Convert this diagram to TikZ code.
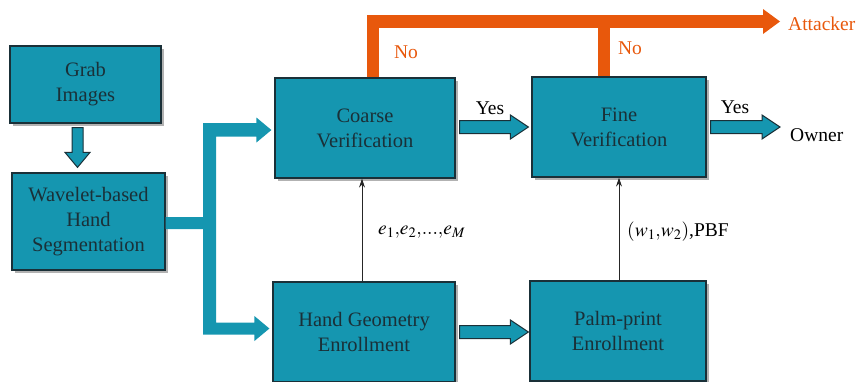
\documentclass[tikz,border=0pt]{standalone}
\usepackage{mathptmx}
\usepackage{fontspec}
\setmainfont{Liberation Serif}
\usetikzlibrary{calc,shadows,arrows.meta}
\definecolor{tealbox}{HTML}{1596B0}
\definecolor{darkline}{HTML}{1A3038}
\definecolor{orng}{HTML}{E8580C}
\newcommand\hblock[3]{%
  \draw[barrow] ($(#1)+(0,-#3)$) -- ($(#2)+(-18,-#3)$) -- ($(#2)+(-18,-12)$) -- (#2)
    -- ($(#2)+(-18,12)$) -- ($(#2)+(-18,#3)$) -- ($(#1)+(0,#3)$) -- cycle;}
\begin{document}
\begin{tikzpicture}[x=1pt,y=-1pt,
  box/.style={draw=darkline, line width=1.2pt, fill=tealbox, text=darkline,
    align=center, inner sep=0pt, font=\fontsize{20.5}{25}\selectfont,
    drop shadow={shadow xshift=2.5pt,shadow yshift=-2.5pt,opacity=0.3,fill=black}},
  lbl/.style={font=\fontsize{19.5}{24}\selectfont, inner sep=0pt},
  barrow/.style={draw=darkline, line width=1pt, fill=tealbox},
  branch/.style={fill=tealbox},
  orangeline/.style={draw=orng, line width=12.5pt},
  thin/.style={draw=black!85, line width=0.8pt, -{Stealth[length=9pt,width=6pt]}}]
\useasboundingbox (0,0) rectangle (862,381);
\clip (0,0) rectangle (862,381);
% boxes
\node[box, minimum width=151pt, minimum height=77pt] (grab) at (85.5,84.5) {Grab\\Images};
\node[box, minimum width=153pt, minimum height=97pt] (wave) at (88.5,221.5) {Wavelet-based\\Hand\\Segmentation};
\node[box, minimum width=180pt, minimum height=100pt] (coarse) at (365,128) {Coarse\\Verification};
\node[box, minimum width=174pt, minimum height=100pt] (fine) at (619,127) {Fine\\Verification};
\node[box, minimum width=182pt, minimum height=100pt] (hand) at (364,332) {Hand Geometry\\Enrollment};
\node[box, minimum width=176pt, minimum height=100pt] (palm) at (618,331) {Palm-print\\Enrollment};
% down arrow grab -> wave
\coordinate (ga) at ($(grab.south)+(-8,4)$);
\coordinate (gb0) at ($(wave.north)+(0,-5)$);
\coordinate (gb) at (ga |- gb0);
\draw[barrow] ($(ga)+(-5.5,0)$) -- ($(gb)+(-5.5,-15)$) -- ($(gb)+(-12.5,-15)$) -- (gb)
  -- ($(gb)+(12.5,-15)$) -- ($(gb)+(5.5,-15)$) -- ($(ga)+(5.5,0)$) -- cycle;
% branch from wave
\coordinate (bs) at ($(wave.east)+(0,1.5)$);
\coordinate (bt) at ($(coarse.west)+(-3,2)$);
\coordinate (bb) at ($(hand.west)+(-3,-3.5)$);
\fill[branch] (bs |- 0,217) -- (203,217) -- (203,334.5) -- ($(bb)+(-15,6)$) -- ($(bb)+(-15,12.5)$)
  -- (bb) -- ($(bb)+(-15,-12.5)$) -- ($(bb)+(-15,-6)$) -- (216,322.5) -- (216,136.5)
  -- ($(bt)+(-15,6.5)$) -- ($(bt)+(-15,12.5)$) -- (bt) -- ($(bt)+(-15,-12.5)$)
  -- ($(bt)+(-15,-7)$) -- (203,123) -- (203,229) -- (bs |- 0,229) -- cycle;
% yes arrows
\coordinate (c1e) at ($(fine.west)+(-3,0)$);
\coordinate (c1s) at ($(coarse.east)+(4,0)$);
\hblock{c1s |- c1e}{c1e}{6.5}
\node[lbl, text=black] (yes1) at (490,108) {Yes};
\coordinate (f1s) at ($(fine.east)+(4,0)$);
\node[lbl, text=black, anchor=west] (owner) at (790,135) {Owner};
\coordinate (f1e) at (780,127);
\hblock{f1s}{f1e}{6.5}
\node[lbl, text=black] (yes2) at (735,107) {Yes};
\coordinate (h1s) at ($(hand.east)+(4,0)$);
\coordinate (h1e) at ($(palm.west)+(-1,1)$);
\hblock{h1s |- h1e}{h1e}{6.5}
% orange paths
\coordinate (oc) at ($(coarse.north)+(8,0)$);
\coordinate (of) at ($(fine.north)+(-15,0)$);
\node[lbl, text=orng, anchor=west] (attacker) at (788,24) {Attacker};
\coordinate (oe) at (780,21.5);
\draw[orangeline, line join=miter] (oc) -- (oc |- oe) -- ($(oe)+(-16,0)$);
\fill[orng] ($(oe)+(-17,-12.5)$) -- (oe) -- ($(oe)+(-17,12.5)$) -- cycle;
\draw[orangeline] (of) -- ($(of |- oe)+(0,-6)$);
\node[lbl, text=orng] (no1) at (406,52) {No};
\node[lbl, text=orng] (no2) at (630,48) {No};
% thin arrows
\draw[thin] ($(hand.north)+(-2,0)$) -- ($(coarse.south)+(-3,0)$);
\draw[thin] ($(palm.north)+(1,0)$) -- ($(fine.south)+(0,0)$);
\node[lbl, anchor=west] (elab) at (378,232) {$e_1{,}e_2{,}...{,}e_M$};
\node[lbl, anchor=west] (wlab) at (627,232) {$(w_1{,}w_2)$,PBF};
\end{tikzpicture}
\end{document}
